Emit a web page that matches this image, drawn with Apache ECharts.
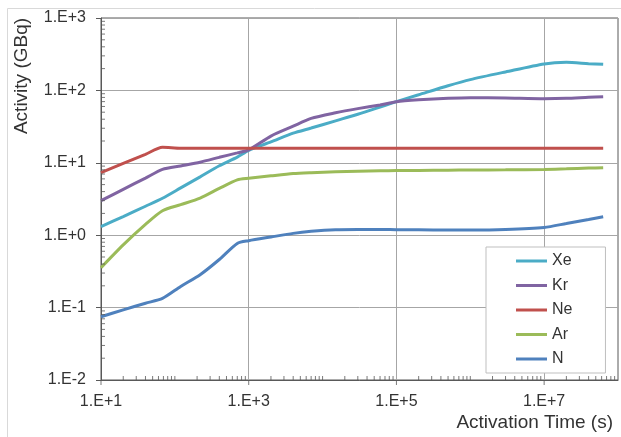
<!DOCTYPE html>
<html><head><meta charset="utf-8">
<script src="https://cdn.jsdelivr.net/npm/echarts@6/dist/echarts.min.js"></script>
<style>html,body{margin:0;padding:0;background:#fff}#c{width:621px;height:437px}</style>
</head><body><div id="c"></div>
<script>
// Activation time (s)
const times = [10, 20, 40, 68, 120, 220, 400, 700, 1000, 2000, 4000, 7000, 15000, 30000, 60000, 1e5, 2e5, 5e5, 1e6, 3e6, 1e7, 2e7, 4e7, 6.3e7];
// Activity (GBq)
const xe = [1.31, 1.81, 2.51, 3.24, 4.5, 6.4, 9.1, 12.0, 14.9, 19.4, 25.7, 30.2, 38, 46.8, 58.9, 70, 87, 116, 141, 180, 232, 244, 234, 229];
const kr = [3.0, 4.3, 6.15, 8.1, 9.05, 10.2, 11.9, 13.7, 15.1, 23.4, 32, 41, 49, 56, 63, 69.8, 74, 77.8, 79.4, 78.5, 76.7, 77.6, 80.4, 81.8];
const ne = [7.3, 9.8, 13.1, 16.4, 15.9, 15.9, 15.9, 15.9, 15.9, 15.9, 15.9, 15.9, 15.9, 15.9, 15.9, 15.9, 15.9, 15.9, 15.9, 15.9, 15.9, 15.9, 15.9, 15.9];
const ar = [0.356, 0.735, 1.41, 2.18, 2.64, 3.25, 4.43, 5.8, 6.1, 6.6, 7.1, 7.3, 7.5, 7.65, 7.75, 7.8, 7.85, 7.9, 7.95, 8.0, 8.1, 8.25, 8.45, 8.55];
const nn = [0.0748, 0.093, 0.115, 0.134, 0.196, 0.285, 0.462, 0.77, 0.84, 0.945, 1.06, 1.13, 1.19, 1.2, 1.2, 1.19, 1.185, 1.18, 1.18, 1.2, 1.28, 1.45, 1.65, 1.8];
const seriesNames = ['Xe', 'Kr', 'Ne', 'Ar', 'N'];
const seriesValues = [xe, kr, ne, ar, nn];
const colors = ['#4bacc6', '#8064a2', '#c0504d', '#9bbb59', '#4f81bd'];
const xLabeledDecades = [1e1, 1e3, 1e5, 1e7];
const xMin = 10, xMax = 1e8, yMin = 0.01, yMax = 1000;

// axis decoration: tick positions
const xMajorTicks = xLabeledDecades.map(v => [v, yMin]);
const xMinorTicks = [];
for (let k = 1; k < 8; k++) {
  for (let m = 2; m <= 10; m++) {
    const v = m * Math.pow(10, k);
    if (m === 10 && xLabeledDecades.indexOf(v) >= 0) continue;
    if (v < xMax) xMinorTicks.push([v, yMin]);
  }
}
const yMinorTicks = [];
for (let k = -2; k < 3; k++) {
  for (let m = 2; m <= 9; m++) yMinorTicks.push([xMin, m * Math.pow(10, k)]);
}

const fmt = v => {
  const e = Math.round(Math.log10(v));
  return '1.E' + (e < 0 ? '-' : '+') + Math.abs(e);
};
const axisColor = '#595959';
const textColor = '#333';
const font = 'Liberation Sans';

const lineSeries = seriesNames.map((n, i) => ({
  name: n, type: 'line', symbol: 'none', smooth: 0.25,
  lineStyle: { width: 3, color: colors[i] }, itemStyle: { color: colors[i] },
  data: times.map((t, j) => [t, seriesValues[i][j]]),
  z: 3
}));
lineSeries[0].markLine = {
  silent: true, symbol: 'none', label: { show: false },
  lineStyle: { color: '#a6a6a6', width: 1, type: 'solid' },
  data: xLabeledDecades.slice(1).map(v => ({ xAxis: v })),
  z: 1
};

const tickSeries = (data, size, offset) => ({
  type: 'scatter', silent: true, clip: false, symbol: 'rect', symbolSize: size, symbolOffset: offset,
  itemStyle: { color: axisColor }, data: data, z: 4, animation: false
});

const chart = echarts.init(document.getElementById('c'), null, { renderer: 'canvas' });
chart.setOption({
  animation: false,
  grid: { left: 101, top: 18, right: 3, bottom: 57, show: true, borderColor: axisColor, borderWidth: 1, backgroundColor: 'transparent' },
  xAxis: {
    type: 'log', logBase: 10, min: xMin, max: xMax,
    axisLine: { lineStyle: { color: axisColor, width: 1 } },
    axisTick: { show: false },
    splitLine: { show: false },
    axisLabel: {
      margin: 14, color: textColor, fontSize: 16, fontFamily: font,
      formatter: v => (xLabeledDecades.indexOf(Math.round(v)) >= 0 ? fmt(v) : '')
    }
  },
  yAxis: {
    type: 'log', logBase: 10, min: yMin, max: yMax,
    axisLine: { show: true, lineStyle: { color: axisColor, width: 1 } },
    axisTick: { show: true, length: 5, lineStyle: { color: axisColor } },
    splitLine: { show: true, lineStyle: { color: '#a6a6a6', width: 1 } },
    axisLabel: { margin: 15, color: textColor, fontSize: 16, fontFamily: font, formatter: fmt }
  },
  legend: {
    data: seriesNames.map(n => ({ name: n, icon: 'path://M0,0 L31,0 L31,3 L0,3 Z' })),
    orient: 'vertical', left: 486, top: 247,
    padding: [6, 33, 6, 30], itemWidth: 31, itemHeight: 14, itemGap: 8.5,
    backgroundColor: '#fff', borderColor: '#bfbfbf', borderWidth: 1, borderRadius: 0,
    textStyle: { color: textColor, fontSize: 16, fontFamily: font }
  },
  graphic: [
    { type: 'rect', shape: { x: 7.5, y: 8.5, width: 640, height: 460 }, style: { fill: 'none', stroke: '#d9d9d9', lineWidth: 1 }, silent: true, z: -1 },
    { type: 'text', x: 22, y: 76, rotation: Math.PI / 2, style: { text: 'Activity (GBq)', font: '19px "Liberation Sans"', fill: textColor, textAlign: 'center', textVerticalAlign: 'middle' } },
    { type: 'text', x: 613, y: 423, style: { text: 'Activation Time (s)', font: '19px "Liberation Sans"', fill: textColor, textAlign: 'right', textVerticalAlign: 'middle' } }
  ],
  series: lineSeries.concat([
    tickSeries(xMajorTicks, [1, 5], [0, 2.5]),
    tickSeries(xMinorTicks, [1, 4], [0, -2]),
    tickSeries(yMinorTicks, [4, 1], [2, 0])
  ])
});
</script></body></html>
